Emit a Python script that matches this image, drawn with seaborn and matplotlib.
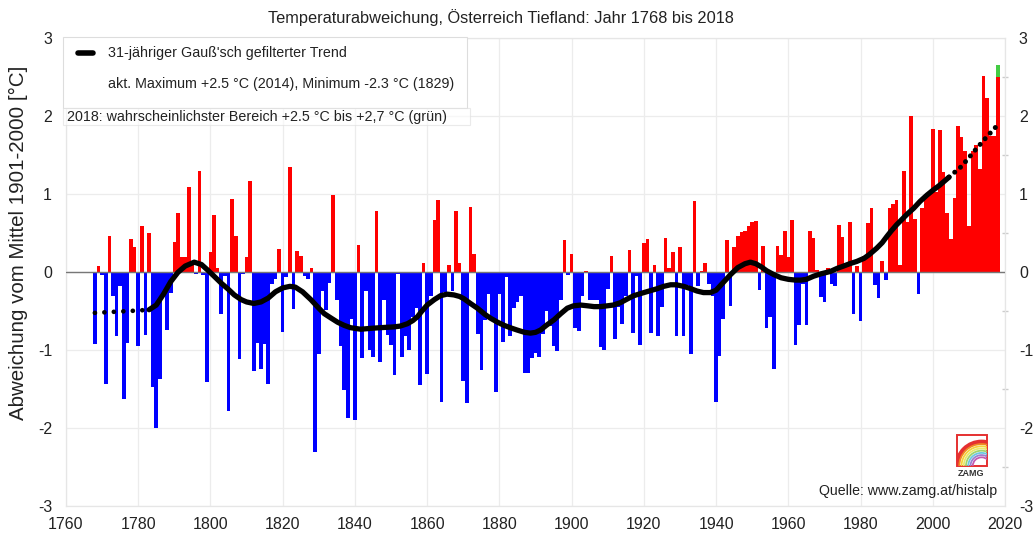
import numpy as np
import matplotlib
matplotlib.use("Agg")
import matplotlib.pyplot as plt
from matplotlib.patches import Rectangle, Arc
from matplotlib.lines import Line2D
import pandas as pd
import seaborn as sns

# Jahresabweichungen vom Mittel 1901-2000, 1768 ... 2018
first_year = 1768
anomaly = [
    -0.92, 0.08,
    -0.03, -1.43, 0.47, -0.31, -0.82, -0.17, -1.63, -0.90, 0.43, 0.33,
    -0.94, 0.59, -0.81, 0.50, -1.47, -2.00, -1.37, -0.27, -0.74, -0.27,
    0.39, 0.76, 0.19, 0.19, 1.10, 0.12, -0.02, 1.30, -0.04, -1.41,
    0.26, 0.73, 0.06, -0.54, -0.05, -1.78, 0.94, 0.46, -1.11, -0.02,
    0.19, 1.17, -1.27, -0.90, -1.24, -0.92, -1.43, -0.15, -0.08, 0.30,
    -0.77, -0.06, 1.35, -0.47, 0.27, 0.21, -0.05, -0.09, 0.06, -2.30,
    -1.05, -0.24, -0.48, -0.14, 0.99, -0.35, -0.95, -1.51, -1.87, -0.60,
    -1.89, 0.35, -1.10, -0.24, -0.99, -1.08, 0.78, -1.15, -0.35, -0.80,
    -0.93, -1.32, -0.02, -1.08, -0.82, -0.99, -0.57, -0.46, -1.44, 0.12,
    -1.30, -0.30, 0.67, 0.93, -1.66, -0.25, 0.09, -0.24, 0.78, 0.12,
    -1.39, -1.68, 0.84, 0.23, -0.79, -1.25, -0.61, -0.28, -0.57, -1.53,
    -0.28, -0.89, -0.06, -0.82, -0.46, -0.38, -0.31, -1.29, -1.29, -1.10,
    -1.03, -1.09, -0.79, -0.50, -0.69, -0.95, -1.01, -0.35, 0.41, -0.03,
    0.24, -0.71, -0.75, -0.31, 0.02, -0.35, -0.35, -0.35, -0.96, -0.99,
    -0.21, 0.21, -0.86, -0.44, -0.66, -0.31, 0.29, -0.78, -0.05, -0.93,
    0.37, 0.43, -0.78, 0.09, -0.82, -0.44, 0.44, 0.06, 0.26, -0.82,
    0.32, -0.82, -0.16, -1.05, 0.91, -0.18, 0.02, 0.12, -0.15, -0.30,
    -1.66, -1.07, -0.60, 0.41, -0.43, 0.32, 0.47, 0.52, 0.53, 0.59,
    0.64, 0.66, -0.23, 0.34, -0.71, -0.57, -1.24, 0.34, 0.22, 0.53,
    0.20, 0.67, -0.93, -0.68, -0.15, -0.68, 0.53, 0.44, 0.03, -0.32,
    -0.38, 0.05, -0.15, -0.17, 0.61, 0.45, 0.07, 0.64, -0.53, 0.08,
    -0.62, 0.21, 0.63, 0.83, -0.16, -0.33, 0.15, -0.10, 0.83, 0.88,
    0.93, 0.10, 1.30, 0.64, 2.00, 0.68, -0.28, 0.82, 0.95, 1.00,
    1.84, 1.03, 1.82, 1.28, 0.76, 0.43, 0.95, 1.87, 1.73, 1.55,
    0.60, 1.55, 1.63, 1.33, 2.52, 2.24, 1.75, 1.75, 2.50,
]
years = list(range(first_year, first_year + len(anomaly)))

# 2018: wahrscheinlichster Bereich (gruen)
range_2018 = [2.50, 2.66]

# 31-jaehriger Gauss-Trend; Raender punktiert
trend_start_years = [1768, 1772, 1776, 1780, 1783]
trend_start_vals = [-0.52, -0.51, -0.50, -0.49, -0.48]

trend_years = [1783, 1785, 1787, 1789, 1791, 1793, 1795.5, 1797.5, 1799.2, 1801,
               1803, 1805, 1806.6, 1808.5, 1810, 1812, 1814, 1816, 1818, 1820,
               1822, 1823.5, 1825.5, 1827.8, 1830, 1831.5, 1833.5, 1835.2, 1837, 1838.8,
               1841.6, 1844, 1847, 1850.8, 1852.5, 1854.5, 1856, 1857.3, 1858.5, 1860,
               1862, 1863.7, 1865.5, 1867.4, 1869, 1870.2, 1872, 1873.9, 1876, 1877.6,
               1879.5, 1881.3, 1883, 1884.9, 1887, 1888.6, 1890, 1891.4, 1893, 1895.1,
               1897, 1898.8, 1900.5, 1902.5, 1904.5, 1906.2, 1908, 1909.8, 1911.5, 1913.5,
               1915.5, 1917.2, 1920, 1923.7, 1925.5, 1927.4, 1929, 1931, 1933, 1934.7,
               1936.5, 1938.4, 1940, 1942, 1944, 1946, 1948, 1949.5, 1951, 1952.5,
               1954, 1956, 1958, 1960, 1962, 1963.5, 1965, 1967, 1969, 1971.6,
               1973.5, 1975.3, 1977, 1979, 1981, 1982.5, 1984.5, 1986, 1987.3, 1988.5,
               1990, 1991.5, 1993, 1994.7, 1996.5, 1998.4, 2000, 2002, 2003.5, 2004.5]
trend_vals = [-0.48, -0.42, -0.28, -0.12, 0.00, 0.08, 0.13, 0.10, 0.03, -0.05,
              -0.14, -0.22, -0.29, -0.35, -0.38, -0.40, -0.38, -0.33, -0.25, -0.20,
              -0.18, -0.19, -0.25, -0.35, -0.46, -0.53, -0.59, -0.64, -0.68, -0.71,
              -0.73, -0.72, -0.71, -0.70, -0.69, -0.66, -0.62, -0.57, -0.50, -0.42,
              -0.35, -0.30, -0.28, -0.29, -0.31, -0.34, -0.40, -0.46, -0.54, -0.59,
              -0.64, -0.68, -0.71, -0.74, -0.77, -0.78, -0.77, -0.74, -0.68, -0.61,
              -0.53, -0.46, -0.43, -0.42, -0.43, -0.44, -0.44, -0.43, -0.42, -0.39,
              -0.34, -0.30, -0.26, -0.21, -0.18, -0.16, -0.16, -0.18, -0.21, -0.24,
              -0.26, -0.26, -0.23, -0.13, -0.03, 0.06, 0.11, 0.13, 0.11, 0.07,
              0.02, -0.03, -0.07, -0.09, -0.10, -0.10, -0.09, -0.05, -0.02, 0.01,
              0.05, 0.08, 0.11, 0.14, 0.18, 0.23, 0.31, 0.38, 0.46, 0.53,
              0.61, 0.68, 0.75, 0.82, 0.91, 0.99, 1.05, 1.12, 1.18, 1.22]

trend_end_years = [2004.5, 2008, 2012, 2015, 2018]
trend_end_vals = [1.22, 1.36, 1.58, 1.74, 1.89]

sns.set_theme(style="white")
plt.rcParams['font.family'] = ['Liberation Sans', 'DejaVu Sans']
plt.rcParams['axes.unicode_minus'] = False

W, H = 1034, 539
fig = plt.figure(figsize=(W / 100, H / 100), dpi=100)
ax = fig.add_axes([66 / W, 1 - 506.3 / H, (1005 - 66) / W, (506.3 - 38.3) / H])

df = pd.DataFrame({'Jahr': years, 'Abweichung': anomaly})
df['Vorzeichen'] = np.where(df['Abweichung'] >= 0, 'warm', 'kalt')

ax.grid(True, color='#ececec', linewidth=0.9)
ax.set_axisbelow(True)

sns.barplot(data=df, x='Jahr', y='Abweichung', hue='Vorzeichen',
            palette={'warm': '#ff0000', 'kalt': '#0000ff'}, saturation=1,
            native_scale=True, width=1, dodge=False, errorbar=None,
            linewidth=0, legend=False, ax=ax)
ax.bar(years[-1], range_2018[1] - range_2018[0], bottom=range_2018[0], width=1,
       color='#44cc44', linewidth=0)

ax.axhline(0, color='#777777', linewidth=1, zorder=3)

# Trend
ax.plot(trend_years, trend_vals, color='black', lw=3.8, solid_capstyle='round', zorder=5)
ax.plot(trend_start_years, trend_start_vals, color='black', lw=3.4,
        linestyle=(0, (0.01, 2.0)), dash_capstyle='round', zorder=5)
ax.plot(trend_end_years, trend_end_vals, color='black', lw=3.6,
        linestyle=(0, (0.01, 1.5)), dash_capstyle='round', zorder=5)

ax.set_xlim(1760, 2020)
ax.set_ylim(-3, 3)
ax.set_xticks(range(1760, 2021, 20))
ax.set_yticks(range(-3, 4))
ax.set_yticks(np.arange(-3, 3.01, 0.5), minor=True)
ax.set_xlabel('')
ax.set_ylabel('')
ax.tick_params(axis='both', labelsize=11.5, colors='#222222', length=0, pad=8)
ax.tick_params(axis='y', labelright=True, pad=10)
ax.tick_params(axis='y', which='minor', right=True, left=False, length=4,
               direction='inout', color='#cccccc')
for s in ax.spines.values():
    s.set_color('#e6e6e6')
    s.set_linewidth(0.9)

# Legendenkasten
def px(x, y):
    return x / W, 1 - y / H

x0, y0 = px(63, 108)
fig.add_artist(Rectangle((x0, y0), 404 / W, 71 / H, transform=fig.transFigure,
                         facecolor='white', edgecolor='#dddddd', lw=0.8, zorder=6))
x1, y1 = px(63, 125)
fig.add_artist(Rectangle((x1, y1), 407 / W, 17 / H, transform=fig.transFigure,
                         facecolor='white', alpha=0.6, edgecolor='#dddddd', lw=0.8, zorder=6))
lx0, ly = px(78, 53)
lx1, _ = px(93, 53)
fig.add_artist(Line2D([lx0, lx1], [ly, ly], transform=fig.transFigure,
                      color='black', lw=4, solid_capstyle='round', zorder=7))
fig.text(*px(108, 53), "31-jähriger Gauß'sch gefilterter Trend", fontsize=10.3,
         color='#222222', va='center', ha='left', zorder=7)
fig.text(*px(108, 84), "akt. Maximum +2.5 °C (2014), Minimum -2.3 °C (1829)", fontsize=10.3,
         color='#222222', va='center', ha='left', zorder=7)
fig.text(*px(67, 117), "2018: wahrscheinlichster Bereich +2.5 °C bis +2,7 °C (grün)",
         fontsize=10.3, color='#222222', va='center', ha='left', zorder=7)

# Titel, Achsenbeschriftung, Quelle
fig.text(*px(501, 18), "Temperaturabweichung, Österreich Tiefland: Jahr 1768 bis 2018",
         fontsize=11.8, color='#222222', ha='center', va='center')
fig.text(*px(18, 243), "Abweichung vom Mittel 1901-2000 [°C]", fontsize=14.8,
         color='#222222', rotation=90, ha='center', va='center')
fig.text(*px(997, 491), "Quelle: www.zamg.at/histalp", fontsize=10.2,
         color='#222222', ha='right', va='center')

# ZAMG-Logo
lax = fig.add_axes([957 / W, 1 - 466 / H, 30 / W, 31 / H])
lax.set_xlim(0, 1)
lax.set_ylim(0, 1)
lax.axis('off')
lax.add_patch(Rectangle((0, 0), 1, 1, fill=False, edgecolor='#e53030', lw=1.4, clip_on=False))
rainbow = ['#e53030', '#f08a24', '#f5d33a', '#e8e86a', '#9fd36b', '#6cc7e0', '#9b7fd1', '#c45cb0']
for i, c in enumerate(rainbow):
    r = 0.82 - i * 0.075
    lax.add_patch(Arc((0.82, 0.0), 2 * r, 2 * r * 0.95, theta1=0, theta2=180,
                      color=c, lw=3.2 if i == 0 else 1.3))
fig.text(*px(971.5, 474), "ZAMG", fontsize=6.5, fontweight='bold', color='#333333',
         ha='center', va='center')

fig.savefig('out.png', dpi=100)
